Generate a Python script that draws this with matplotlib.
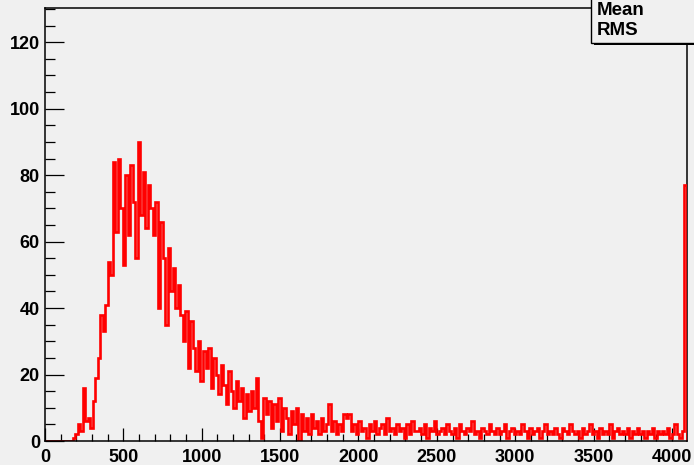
import matplotlib
matplotlib.use("Agg")
import matplotlib.pyplot as plt
from matplotlib.patches import Rectangle
from matplotlib.ticker import MultipleLocator
import numpy as np

# ADC spectrum: 256 bins of 16 channels each, covering 0..4096
bin_width = 16
n_bins = 256

counts = [
    # 0 - 11
    0, 0, 0, 0, 0, 0, 0, 0, 0, 0, 0, 1,
    # 12 - 26 : rising edge
    2, 5, 3, 16, 6, 7, 4, 12, 19, 25, 38, 33, 41, 54, 50,
    # 27 - 47 : peak
    84, 63, 85, 70, 53, 80, 62, 83, 72, 55, 90, 68, 81, 64, 77, 70, 62, 72, 40, 66, 55,
    # 48 - 85 : falling edge
    35, 58, 45, 52, 40, 47, 38, 30, 39, 22, 36, 28, 21, 30, 18, 27, 22, 28, 16, 25,
    20, 14, 23, 17, 11, 21, 15, 10, 18, 12, 16, 7, 14, 9, 15, 10, 19, 6,
    # 86 - 123 : tail start
    1, 13, 8, 12, 4, 11, 6, 13, 3, 10, 7, 2, 9, 5, 10, 0, 8, 3, 7, 2,
    8, 4, 6, 2, 7, 3, 5, 11, 3, 6, 2, 5, 3, 8, 7, 8, 3, 5,
    # 124 - 254 : flat tail
    2, 6, 3, 4, 1, 5, 3, 6, 2, 4, 5, 2, 7, 3, 4, 2, 5,
    3, 4, 1, 5, 2, 6, 3, 3, 4, 2, 5, 1, 4, 3, 6, 2, 3, 4, 2, 5,
    3, 2, 4, 1, 5, 3, 2, 4, 3, 6, 2, 3, 1, 4, 3, 2, 5, 3, 2, 4,
    2, 3, 5, 1, 3, 4, 2, 3, 2, 5, 3, 1, 4, 2, 3, 4, 1, 3, 5, 2,
    3, 2, 4, 2, 1, 4, 3, 2, 5, 3, 2, 3, 1, 4, 2, 3, 5, 2, 3, 1,
    4, 2, 3, 2, 5, 1, 3, 4, 2, 3, 2, 4, 1, 3, 2, 4, 2, 3, 1, 3,
    2, 4, 1, 3, 2, 3, 2, 4, 1, 2, 5, 2, 1, 3,
    # 255 : saturation channel
    77,
]

x_major_ticks = [0, 500, 1000, 1500, 2000, 2500, 3000, 3500, 4000]
y_major_ticks = [0, 20, 40, 60, 80, 100, 120]
stat_names = ["Mean", "RMS"]

edges = np.arange(n_bins + 1) * bin_width

bg = "#f0f0f0"
plt.rcParams["font.family"] = ["Liberation Sans", "DejaVu Sans"]

W, H = 694, 465
fig = plt.figure(figsize=(W / 100, H / 100), dpi=100, facecolor=bg)
ax = fig.add_axes([45 / W, 24 / H, 642 / W, 433 / H])
ax.set_facecolor(bg)

ax.stairs(counts, edges, color="#ff0000", linewidth=1.9, zorder=3)

ax.set_xlim(0, n_bins * bin_width)
ax.set_ylim(0, 130.3)

ax.set_xticks(x_major_ticks)
ax.set_yticks(y_major_ticks)
ax.xaxis.set_minor_locator(MultipleLocator(100))
ax.yaxis.set_minor_locator(MultipleLocator(5))

ax.tick_params(axis="x", which="major", direction="in", length=9.4, width=0.9,
               pad=5.5, labelsize=13, top=False)
ax.tick_params(axis="x", which="minor", direction="in", length=4.7, width=0.9,
               top=False)
ax.tick_params(axis="y", which="major", direction="in", length=13.7, width=0.9,
               pad=3.6, labelsize=13, right=False)
ax.tick_params(axis="y", which="minor", direction="in", length=7.5, width=0.9,
               right=False)
for lab in ax.get_xticklabels() + ax.get_yticklabels():
    lab.set_fontweight("bold")

for name, sp in ax.spines.items():
    sp.set_linewidth(1.1)
    sp.set_color("black")
ax.spines["bottom"].set_zorder(4)
ax.spines["left"].set_zorder(4)
ax.spines["right"].set_zorder(2)
ax.spines["top"].set_zorder(2)

# statistics box in the upper right corner (with drop shadow)
bx0, by0 = 591 / W, 1 - 43 / H
shadow = Rectangle((bx0 + 3 / W, by0 - 2.5 / H), 1, 1, transform=fig.transFigure,
                   facecolor="black", edgecolor="none", zorder=5)
box = Rectangle((bx0, by0), 1, 1, transform=fig.transFigure,
                facecolor=bg, edgecolor="black", linewidth=1.0, zorder=6)
fig.add_artist(shadow)
fig.add_artist(box)
fig.text(597 / W, 1 - 2 / H, stat_names[0], ha="left", va="top",
         fontsize=13.5, fontweight="bold", zorder=7)
fig.text(597 / W, 1 - 22 / H, stat_names[1], ha="left", va="top",
         fontsize=13.5, fontweight="bold", zorder=7)

fig.savefig("out.png", dpi=100, facecolor=bg)
